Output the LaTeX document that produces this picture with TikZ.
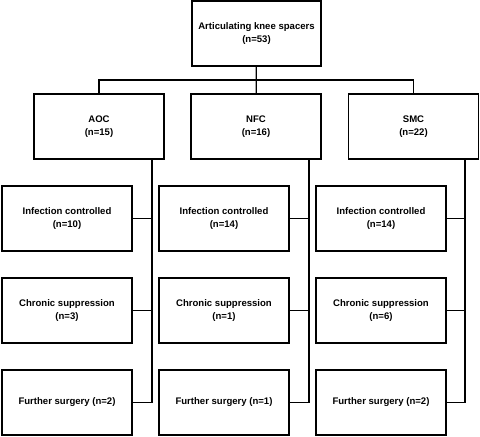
\documentclass[tikz,border=0pt]{standalone}
\usepackage{fontspec}
\setmainfont{Liberation Sans}
\usetikzlibrary{calc}

\tikzset{
  box/.style={draw, line width=1.2bp, minimum width=130bp, minimum height=65bp,
    inner sep=0pt, align=center, font=\fontsize{9.6}{13.5}\selectfont\bfseries},
  link/.style={line width=1.2bp}
}

\begin{document}
\begin{tikzpicture}[x=1bp, y=-1bp]
\useasboundingbox (0,0) rectangle (480,437);

\node[box, minimum width=129bp] (T) at (256.5,33.5) {Articulating knee spacers\\(n=53)};

\node[box] (AOC) at (99,126.5) {AOC\\(n=15)};
\node[box] (NFC) at (256,126.5) {NFC\\(n=16)};
\node[box] (SMC) at (413.5,126.5) {SMC\\(n=22)};

\node[box] (AOCi) at (67,218.5) {Infection controlled\\(n=10)};
\node[box] (AOCc) at (67,310.5) {Chronic suppression\\(n=3)};
\node[box] (AOCf) at (67,402.5) {Further surgery (n=2)};

\node[box] (NFCi) at (224,218.5) {Infection controlled\\(n=14)};
\node[box] (NFCc) at (224,310.5) {Chronic suppression\\(n=1)};
\node[box] (NFCf) at (224,402.5) {Further surgery (n=1)};

\node[box] (SMCi) at (381,218.5) {Infection controlled\\(n=14)};
\node[box] (SMCc) at (381,310.5) {Chronic suppression\\(n=6)};
\node[box] (SMCf) at (381,402.5) {Further surgery (n=2)};

\coordinate (split) at (256,80);
\coordinate (AOCb) at (152,159);
\coordinate (NFCb) at (309,159);
\coordinate (SMCb) at (465,159);

\draw[link] (T) -- (NFC);
\draw[link] (AOC.north) |- (split) -| (SMC.north);

% bus line from each group down to its outcomes
\foreach \g in {AOC, NFC, SMC} {
  \draw[link] (\g b) |- (\g f.east);
  \draw[link] (\g i.east) -- (\g i.east -| \g b);
  \draw[link] (\g c.east) -- (\g c.east -| \g b);
}
\end{tikzpicture}
\end{document}
